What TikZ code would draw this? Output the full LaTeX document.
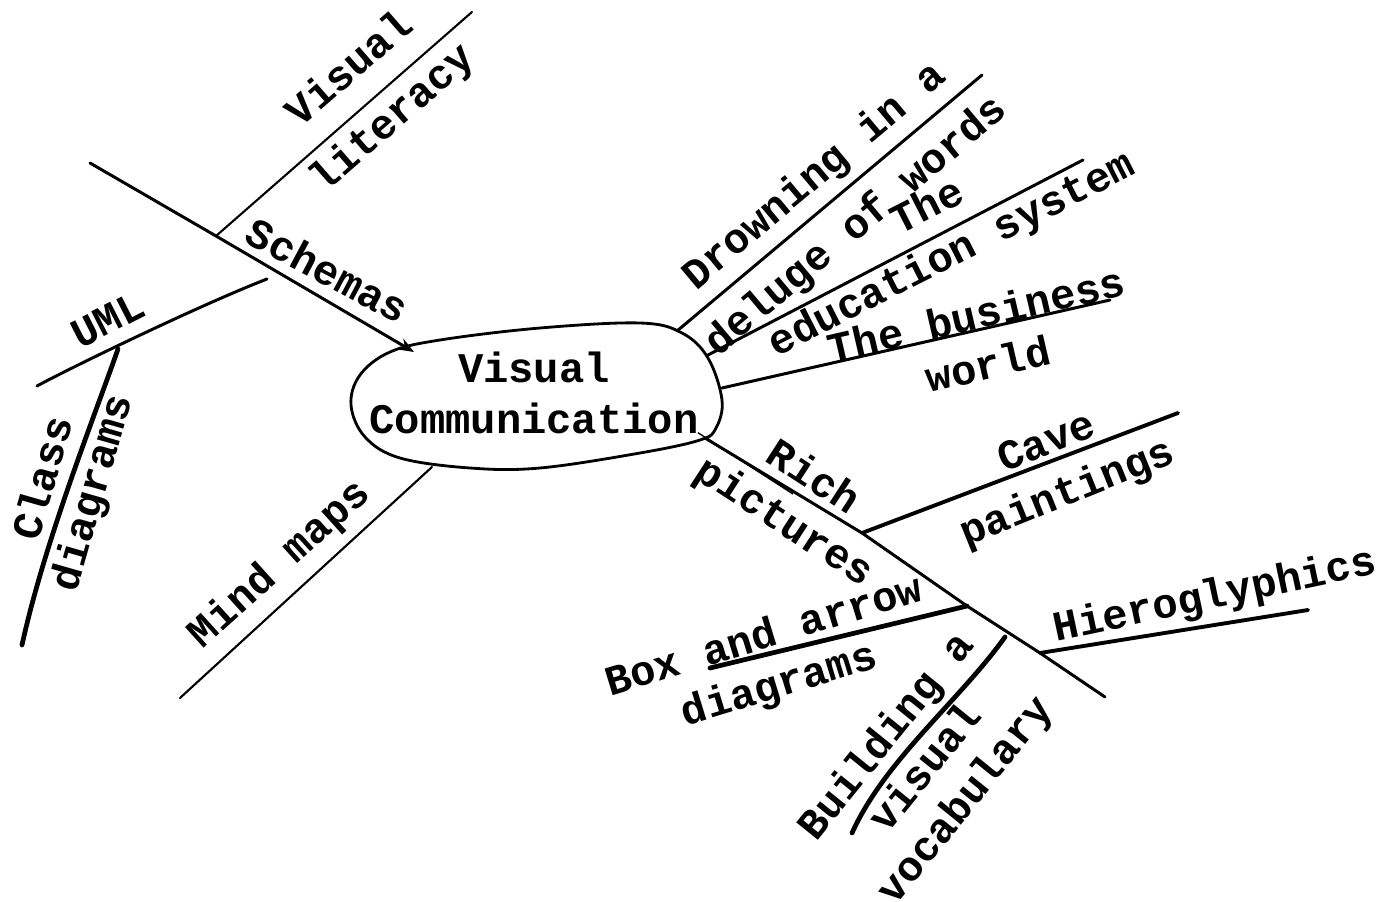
\documentclass[tikz,border=0pt]{standalone}
\usepackage{fontspec}
\setmainfont{Liberation Mono}
\usetikzlibrary{arrows.meta,shapes.geometric}
\begin{document}
\begin{tikzpicture}[x=0.02cm,y=-0.02cm,
  lbl/.style={font=\fontsize{24}{29}\selectfont\bfseries, align=center, inner sep=0pt},
  branch/.style={line width=1.7pt, line cap=round},
  fine/.style={line width=1.2pt, line cap=round},
  broad/.style={line width=2.2pt, line cap=round},
  heavy/.style={line width=2.7pt, line cap=round}]
\useasboundingbox (0,0) rectangle (1389,902);
% central blob
\draw[line width=1.6pt] plot[smooth cycle, tension=0.6] coordinates {
  (351,405) (360,375) (390,352) (440,340) (540,328) (640,323) (682,333)
  (708,358) (722,400) (716,428) (700,440) (640,453) (540,468) (470,468)
  (400,458) (365,437)};
\node[lbl, shape=ellipse, minimum width=7.4cm, minimum height=2.9cm] (vc) at (534,393) {Visual\\Communication};
% anchor points on the blob
\coordinate (vcA) at (414,352);
\coordinate (vcM) at (432,467);
\coordinate (vcD) at (677,331);
\coordinate (vcE) at (708,355);
\coordinate (vcB) at (722,388);
\coordinate (vcR) at (705,438);
% left side
\coordinate (sS) at (90,163);
\coordinate (j1) at (216,236);
\coordinate (vlE) at (472,12);
\coordinate (uS) at (37,386);
\coordinate (j2) at (118,349);
\coordinate (uE) at (267,279);
\coordinate (cdE) at (22,645);
\coordinate (mmE) at (180,698);
\draw[branch, -{Stealth[length=9pt,width=7pt]}] (sS) -- (j1) -- (vcA);
\draw[fine] (j1) -- (vlE);
\draw[branch] (uS) .. controls (70,368) and (200,305) .. (uE);
\draw[heavy] (j2) .. controls (95,415) and (45,540) .. (cdE);
\draw[fine] (vcM) -- (mmE);
% right upper
\coordinate (dE) at (982,75);
\coordinate (eE) at (1083,160);
\coordinate (bE) at (1110,300);
\draw[branch] (vcD) -- (dE);
\draw[branch] (vcE) -- (eE);
\draw[branch] (vcB) -- (bE);
% right lower
\coordinate (jC) at (862,533);
\coordinate (jB) at (967,606);
\coordinate (jH) at (1040,653);
\coordinate (rE) at (1105,697);
\coordinate (cE) at (1178,413);
\coordinate (hE) at (1308,610);
\coordinate (bxE) at (710,668);
\coordinate (bvS) at (1005,637);
\coordinate (bvE) at (852,833);
\draw[branch] (vcR) -- (jC) -- (jB) -- (jH) -- (rE);
\draw[line width=0.8pt] ([xshift=-4,yshift=3]vcR) -- (793,494);
\draw[broad] (jC) -- (cE);
\draw[broad] (jH) -- (hE);
\draw[heavy] (jB) -- (bxE);
\draw[heavy] (bvS) .. controls (960,700) and (885,760) .. (bvE);
% labels
\node[lbl, rotate=41] (tVL) at (372,95) {Visual\\[8pt]literacy};
\node[lbl, rotate=-28] (tS) at (328,270) {Schemas};
\node[lbl, rotate=27] (tU) at (108,320) {UML};
\node[lbl, rotate=74] (tCD) at (70,486) {Class\\diagrams};
\node[lbl, rotate=42] (tMM) at (280,565) {Mind maps};
\node[lbl, rotate=40] (tD) at (836,202) {Drowning in a\\[8pt]deluge of words};
\node[lbl, rotate=27] (tE) at (940,232) {The\\[1pt]education system};
\node[lbl, rotate=13] (tB) at (982,339) {The business\\world};
\node[lbl, rotate=-33] (tR) at (798,501) {Rich\\[1pt]pictures};
\node[lbl, rotate=22] (tC) at (1058,470) {Cave\\[2pt]paintings};
\node[lbl, rotate=12] (tH) at (1215,597) {Hieroglyphics};
\node[lbl, rotate=17] (tBA) at (772,662) {Box and arrow\\diagrams};
\node[lbl, rotate=51] (tBV) at (927,769) {Building a\\visual\\vocabulary};
\end{tikzpicture}
\end{document}
